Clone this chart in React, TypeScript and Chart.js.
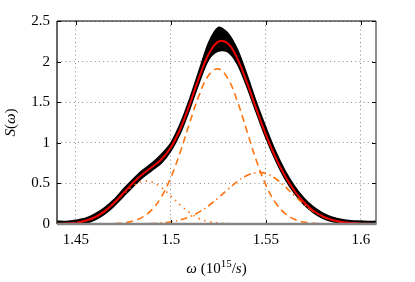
import React, { useEffect, useRef } from "react";
import { Chart, registerables } from "chart.js";

Chart.register(...registerables);

// frequency grid (10^15 / s)
const omega = [
  1.44, 1.445, 1.45, 1.455, 1.46, 1.465, 1.47, 1.475, 1.48, 1.485, 1.49, 1.495,
  1.5, 1.505, 1.51, 1.515, 1.52, 1.525, 1.53, 1.535, 1.54, 1.545, 1.55, 1.555,
  1.56, 1.565, 1.57, 1.575, 1.58, 1.585, 1.59, 1.595, 1.6, 1.605, 1.61,
];

// measured spectrum: upper and lower edge of the noisy black band
const dataUpper = [
  0.035, 0.03, 0.045, 0.07, 0.125, 0.2, 0.3, 0.43, 0.55, 0.66, 0.75, 0.86,
  1.0, 1.24, 1.55, 1.9, 2.24, 2.42, 2.35, 2.15, 1.84, 1.5, 1.19, 0.9,
  0.66, 0.47, 0.32, 0.21, 0.135, 0.085, 0.055, 0.04, 0.035, 0.03, 0.035,
];
const dataLower = [
  0.0, 0.0, 0.0, 0.01, 0.05, 0.12, 0.22, 0.34, 0.46, 0.57, 0.66, 0.75,
  0.9, 1.12, 1.42, 1.75, 2.03, 2.13, 2.12, 1.97, 1.69, 1.37, 1.06, 0.79,
  0.56, 0.38, 0.24, 0.14, 0.07, 0.03, 0.01, 0.0, 0.0, 0.0, 0.0,
];

// total fit (red)
const fitTotal = [
  0.002, 0.006, 0.016, 0.039, 0.083, 0.156, 0.259, 0.381, 0.505, 0.612, 0.701, 0.798,
  0.946, 1.176, 1.483, 1.816, 2.096, 2.246, 2.222, 2.037, 1.743, 1.414, 1.101, 0.824,
  0.594, 0.409, 0.268, 0.164, 0.094, 0.049, 0.024, 0.011, 0.005, 0.002, 0.001,
];

// main component (dashed)
const peakMain = [
  0, 0, 0, 0, 0, 0.002, 0.005, 0.014, 0.036, 0.084, 0.177, 0.335,
  0.575, 0.893, 1.255, 1.595, 1.835, 1.91, 1.79, 1.511, 1.146, 0.781, 0.479, 0.264,
  0.131, 0.058, 0.023, 0.008, 0.003, 0, 0, 0, 0, 0, 0,
];

// low-frequency component (dotted)
const peakLow = [
  0.002, 0.006, 0.016, 0.039, 0.083, 0.154, 0.254, 0.367, 0.468, 0.525, 0.518, 0.45,
  0.344, 0.232, 0.137, 0.065, 0.03, 0.012, 0.005, 0.002, 0, 0, 0, 0,
  0, 0, 0, 0, 0, 0, 0, 0, 0, 0, 0,
];

// high-frequency component (dash-dot)
const peakHigh = [
  0, 0, 0, 0, 0, 0, 0, 0, 0.001, 0.003, 0.006, 0.013,
  0.027, 0.051, 0.091, 0.149, 0.228, 0.323, 0.427, 0.524, 0.597, 0.633, 0.622, 0.56,
  0.463, 0.351, 0.245, 0.156, 0.091, 0.049, 0.024, 0.011, 0.005, 0.002, 0.001,
];

const xTicks = [1.45, 1.5, 1.55, 1.6];
const yTicks = [0, 0.5, 1, 1.5, 2, 2.5];

const SERIF = "'Liberation Serif', 'DejaVu Serif', serif";
const ORANGE = "#ff7410";

type Part = { t: string; it?: boolean; sup?: boolean };

function drawParts(ctx: CanvasRenderingContext2D, parts: Part[], cx: number, baseline: number, size: number) {
  const fontOf = (p: Part) =>
    `${p.it ? "italic " : ""}${p.sup ? Math.round(size * 0.7) : size}px ${SERIF}`;
  let total = 0;
  const widths = parts.map((p) => {
    ctx.font = fontOf(p);
    const w = ctx.measureText(p.t).width;
    total += w;
    return w;
  });
  let x = cx - total / 2;
  ctx.textAlign = "left";
  ctx.textBaseline = "alphabetic";
  parts.forEach((p, i) => {
    ctx.font = fontOf(p);
    ctx.fillText(p.t, x, p.sup ? baseline - size * 0.42 : baseline);
    x += widths[i];
  });
}

const framePlugin = {
  id: "frame",
  afterDraw(chart: any) {
    const { ctx, chartArea } = chart;
    const { left, right, top, bottom } = chartArea;
    const xs = chart.scales.x;
    const ys = chart.scales.y;
    ctx.save();
    const line = (x1: number, y1: number, x2: number, y2: number) => {
      ctx.beginPath();
      ctx.moveTo(x1, y1);
      ctx.lineTo(x2, y2);
      ctx.stroke();
    };
    // inward ticks
    ctx.strokeStyle = "#000";
    ctx.lineWidth = 1;
    xTicks.forEach((v) => {
      const px = Math.round(xs.getPixelForValue(v)) + 0.5;
      line(px, bottom, px, bottom - 4);
      line(px, top, px, top + 4);
    });
    yTicks.forEach((v) => {
      const py = Math.round(ys.getPixelForValue(v)) + 0.5;
      line(left, py, left + 4, py);
      line(right, py, right - 4, py);
    });
    // frame
    ctx.strokeStyle = "#000";
    ctx.lineWidth = 1.2;
    line(left, top, right, top);
    line(left, top, left, bottom);
    ctx.strokeStyle = "#444";
    line(right, top, right, bottom);
    ctx.strokeStyle = "#858585";
    ctx.lineWidth = 2.5;
    line(left, bottom, right + 0.6, bottom);

    // axis titles
    ctx.fillStyle = "#000";
    drawParts(
      ctx,
      [{ t: "ω", it: true }, { t: " (10" }, { t: "15", sup: true }, { t: "/" }, { t: "s", it: true }, { t: ")" }],
      (left + right) / 2,
      273,
      15
    );
    ctx.translate(10, (top + bottom) / 2);
    ctx.rotate(-Math.PI / 2);
    drawParts(ctx, [{ t: "S", it: true }, { t: "(" }, { t: "ω", it: true }, { t: ")" }], 0, 5, 15);
    ctx.restore();
  },
};

const pts = (arr: number[]) => omega.map((w, i) => ({ x: w, y: arr[i] }));

export default function App() {
  const ref = useRef<HTMLCanvasElement | null>(null);
  useEffect(() => {
    if (!ref.current) return;
    const chart = new Chart(ref.current, {
      type: "line",
      data: {
        datasets: [
          {
            data: pts(dataUpper),
            borderColor: "#000",
            borderWidth: 1.5,
            pointRadius: 0,
            tension: 0.3,
            fill: false,
            order: 10,
          },
          {
            data: pts(dataLower),
            borderColor: "#000",
            backgroundColor: "#000",
            borderWidth: 1.5,
            pointRadius: 0,
            tension: 0.3,
            fill: "-1",
            order: 9,
          },
          {
            data: pts(peakMain),
            borderColor: ORANGE,
            borderWidth: 1.6,
            borderDash: [7, 4.5],
            pointRadius: 0,
            tension: 0.4,
            fill: false,
            order: 4,
          },
          {
            data: pts(peakLow),
            borderColor: ORANGE,
            borderWidth: 1.6,
            borderDash: [1.5, 4.5],
            pointRadius: 0,
            tension: 0.4,
            fill: false,
            order: 3,
          },
          {
            data: pts(peakHigh),
            borderColor: ORANGE,
            borderWidth: 1.6,
            borderDash: [7, 3.5, 1.5, 3.5],
            pointRadius: 0,
            tension: 0.4,
            fill: false,
            order: 2,
          },
          {
            data: pts(fitTotal),
            borderColor: "#f00000",
            borderWidth: 2,
            pointRadius: 0,
            tension: 0.4,
            fill: false,
            order: 1,
          },
        ],
      },
      options: {
        animation: false,
        responsive: false,
        devicePixelRatio: 1,
        layout: { padding: { top: 21, right: 39, left: 0, bottom: 0 } },
        plugins: { legend: { display: false }, tooltip: { enabled: false } },
        scales: {
          x: {
            type: "linear",
            min: 1.44,
            max: 1.608,
            afterBuildTicks: (s: any) => {
              s.ticks = xTicks.map((v) => ({ value: v }));
            },
            afterFit: (s: any) => {
              s.height = 58;
            },
            ticks: {
              padding: 7,
              color: "#000",
              font: { family: SERIF, size: 15 },
              maxRotation: 0,
              autoSkip: false,
              callback: (v: any) => String(v),
            },
            grid: { color: "#8a8a8a", lineWidth: 1, drawTicks: false },
            border: { display: false, dash: [1, 3.2] },
          },
          y: {
            type: "linear",
            min: 0,
            max: 2.5,
            afterBuildTicks: (s: any) => {
              s.ticks = yTicks.map((v) => ({ value: v }));
            },
            afterFit: (s: any) => {
              s.width = 57;
            },
            ticks: {
              padding: 7,
              color: "#000",
              font: { family: SERIF, size: 15 },
              callback: (v: any) => String(v),
            },
            grid: { color: "#8a8a8a", lineWidth: 1, drawTicks: false },
            border: { display: false, dash: [1, 3.2] },
          },
        },
      },
      plugins: [framePlugin],
    });
    return () => chart.destroy();
  }, []);
  return (
    <div style={{ position: "absolute", left: 0, top: 0, width: 415, height: 282, background: "#fff" }}>
      <canvas ref={ref} width={415} height={282} style={{ width: 415, height: 282, display: "block" }} />
    </div>
  );
}
